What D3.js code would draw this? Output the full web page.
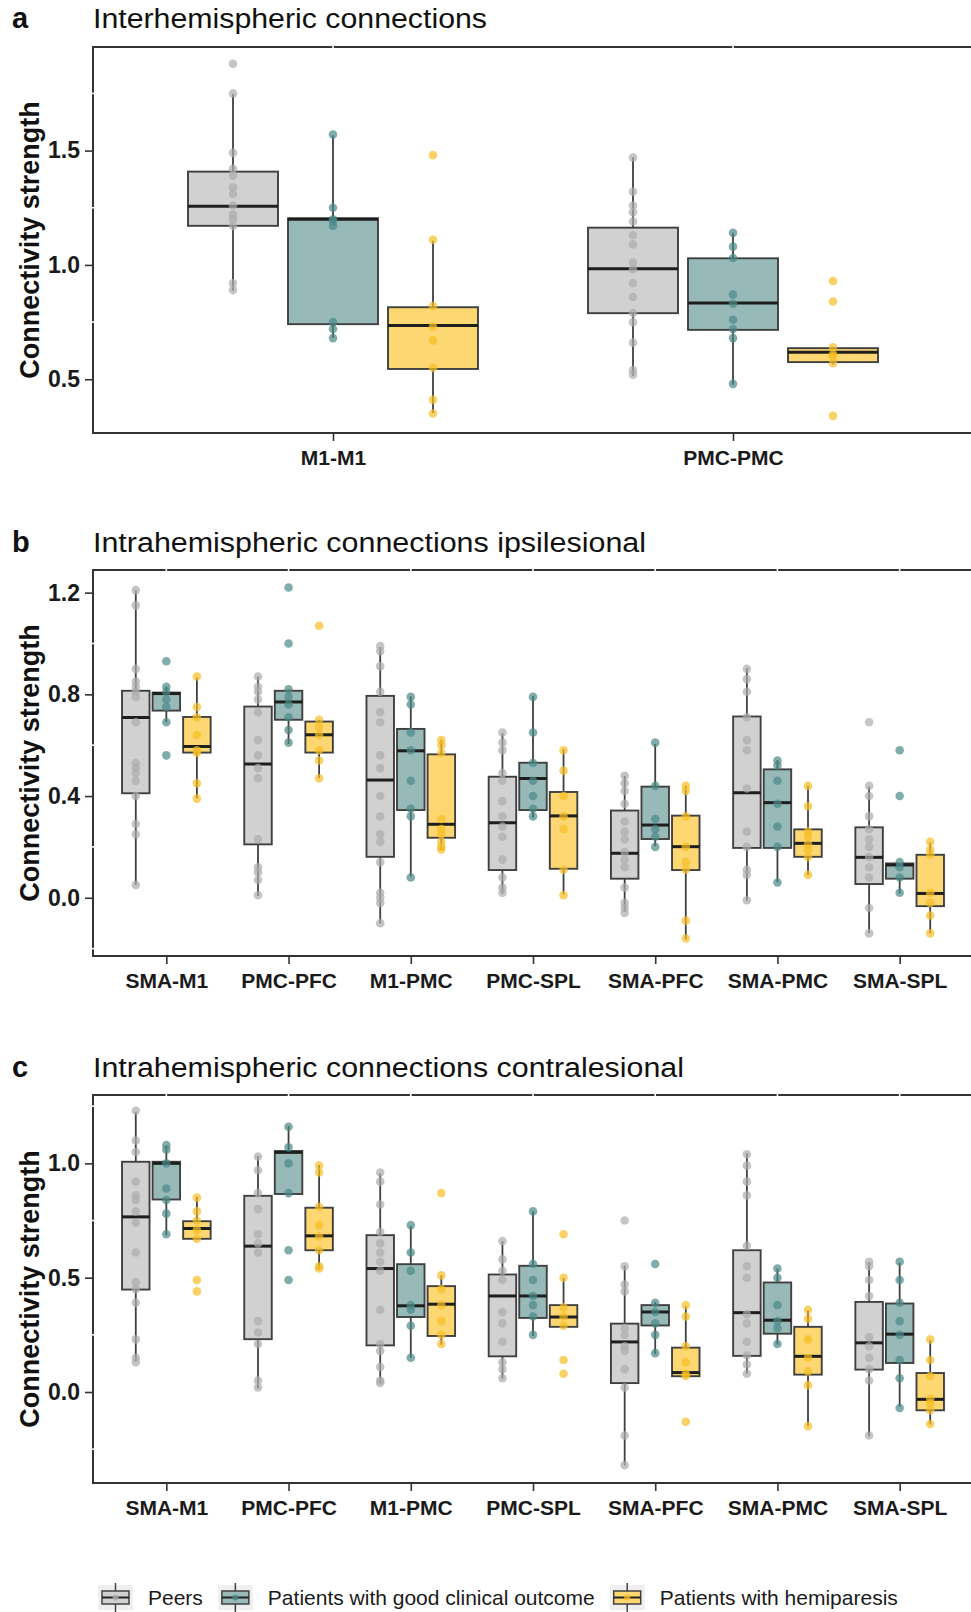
<!DOCTYPE html>
<html>
<head>
<meta charset="utf-8">
<script src="https://cdn.jsdelivr.net/npm/d3@7"></script>
<style>
  body { margin: 0; background: #fff; }
  svg { display: block; font-family: "Liberation Sans", Arial, sans-serif; }
</style>
</head>
<body>
<svg id="chart" width="971" height="1612"></svg>
<script>
// groups (legend order)
const groups = ["Peers", "Patients with good clinical outcome", "Patients with hemiparesis"]

// categories
const interCats = ["M1-M1", "PMC-PMC"]
const intraCats = ["SMA-M1", "PMC-PFC", "M1-PMC", "PMC-SPL", "SMA-PFC", "SMA-PMC", "SMA-SPL"]

// y ticks / limits
const ticksA = [0.5, 1.0, 1.5]
const ticksB = [0.0, 0.4, 0.8, 1.2]
const ticksC = [0.0, 0.5, 1.0]
const minorA = [0.75, 1.25, 1.75]
const minorB = [-0.2, 0.2, 0.6, 1.0]
const minorC = [-0.25, 0.25, 0.75, 1.25]
const limitsA = [0.265, 1.953]
const limitsB = [-0.229, 1.289]
const limitsC = [-0.398, 1.299]

// box stats: [lower whisker, q1, median, q3, upper whisker] per category
const interPeersBox = [[0.888, 1.171, 1.257, 1.408, 1.747], [0.515, 0.789, 0.983, 1.163, 1.471]]
const interGoodBox = [[0.680, 0.741, 1.200, 1.204, 1.566], [0.476, 0.716, 0.833, 1.029, 1.141]]
const interHemiBox = [[0.352, 0.545, 0.735, 0.815, 1.106], [0.566, 0.575, 0.618, 0.636, 0.636]]

const interPeersPts = [
  [1.88, 1.75, 1.49, 1.42, 1.39, 1.34, 1.31, 1.26, 1.22, 1.20, 1.17, 0.92, 0.89],
  [1.47, 1.32, 1.26, 1.23, 1.19, 1.13, 1.09, 1.01, 0.98, 0.92, 0.86, 0.79, 0.75, 0.66, 0.54, 0.52]
]
const interGoodPts = [
  [1.57, 1.25, 1.20, 1.19, 1.17, 0.75, 0.72, 0.68],
  [1.14, 1.08, 1.03, 0.87, 0.83, 0.76, 0.72, 0.68, 0.48]
]
const interHemiPts = [
  [1.48, 1.11, 0.82, 0.73, 0.67, 0.55, 0.41, 0.35],
  [0.93, 0.84, 0.64, 0.61, 0.60, 0.57, 0.34]
]

const ipsiPeersBox = [
  [0.050, 0.411, 0.709, 0.814, 1.209], [0.007, 0.210, 0.526, 0.752, 0.870],
  [-0.101, 0.161, 0.463, 0.794, 0.986], [0.017, 0.109, 0.295, 0.476, 0.647],
  [-0.055, 0.075, 0.175, 0.343, 0.480], [-0.012, 0.196, 0.413, 0.713, 0.903],
  [-0.140, 0.054, 0.159, 0.277, 0.437]
]
const ipsiGoodBox = [
  [0.690, 0.736, 0.803, 0.807, 0.831], [0.605, 0.700, 0.770, 0.814, 0.818],
  [0.083, 0.345, 0.578, 0.664, 0.792], [0.315, 0.345, 0.469, 0.531, 0.794],
  [0.204, 0.231, 0.286, 0.437, 0.605], [0.061, 0.196, 0.374, 0.505, 0.542],
  [0.017, 0.075, 0.129, 0.135, 0.135]
]
const ipsiHemiBox = [
  [0.391, 0.571, 0.595, 0.711, 0.866], [0.470, 0.571, 0.641, 0.693, 0.700],
  [0.188, 0.236, 0.289, 0.564, 0.621], [0.014, 0.114, 0.322, 0.416, 0.584],
  [-0.164, 0.109, 0.201, 0.323, 0.441], [0.089, 0.161, 0.214, 0.269, 0.440],
  [-0.140, -0.033, 0.017, 0.169, 0.217]
]

const ipsiPeersPts = [
  [1.21, 1.15, 0.90, 0.85, 0.83, 0.81, 0.79, 0.69, 0.53, 0.51, 0.49, 0.46, 0.40, 0.29, 0.25, 0.05],
  [0.87, 0.83, 0.81, 0.78, 0.73, 0.62, 0.56, 0.51, 0.47, 0.23, 0.12, 0.10, 0.07, 0.01],
  [0.99, 0.97, 0.91, 0.81, 0.73, 0.69, 0.56, 0.51, 0.40, 0.32, 0.25, 0.22, 0.14, 0.02, 0.00, -0.02, -0.10],
  [0.65, 0.61, 0.58, 0.49, 0.46, 0.38, 0.32, 0.28, 0.24, 0.15, 0.08, 0.04, 0.02],
  [0.48, 0.45, 0.42, 0.37, 0.30, 0.26, 0.23, 0.18, 0.15, 0.12, 0.04, -0.02, -0.04, -0.06],
  [0.90, 0.86, 0.81, 0.71, 0.62, 0.58, 0.43, 0.26, 0.20, 0.11, 0.09, -0.01],
  [0.69, 0.44, 0.40, 0.32, 0.27, 0.23, 0.20, 0.16, 0.12, 0.08, -0.04, -0.14]
]
const ipsiGoodPts = [
  [0.93, 0.83, 0.81, 0.78, 0.75, 0.69, 0.56],
  [1.22, 1.00, 0.82, 0.79, 0.76, 0.71, 0.66, 0.61],
  [0.79, 0.76, 0.65, 0.58, 0.46, 0.35, 0.32, 0.08],
  [0.79, 0.65, 0.53, 0.46, 0.40, 0.35, 0.32],
  [0.61, 0.44, 0.31, 0.27, 0.24, 0.20],
  [0.54, 0.52, 0.46, 0.37, 0.28, 0.20, 0.06],
  [0.58, 0.40, 0.14, 0.12, 0.08, 0.02]
]
const ipsiHemiPts = [
  [0.87, 0.75, 0.71, 0.64, 0.58, 0.57, 0.45, 0.39],
  [1.07, 0.70, 0.67, 0.64, 0.58, 0.54, 0.47],
  [0.62, 0.60, 0.57, 0.31, 0.27, 0.25, 0.22, 0.20, 0.19],
  [0.58, 0.50, 0.40, 0.32, 0.27, 0.11, 0.01],
  [0.44, 0.42, 0.32, 0.20, 0.14, 0.11, -0.09, -0.16],
  [0.44, 0.36, 0.26, 0.24, 0.21, 0.19, 0.16, 0.09],
  [0.22, 0.19, 0.17, 0.02, -0.02, -0.07, -0.14]
]

const contraPeersBox = [
  [0.131, 0.448, 0.766, 1.007, 1.226], [0.015, 0.231, 0.638, 0.858, 1.032],
  [0.036, 0.204, 0.540, 0.686, 0.956], [0.058, 0.156, 0.420, 0.514, 0.660],
  [-0.321, 0.039, 0.219, 0.299, 0.552], [0.080, 0.158, 0.347, 0.620, 1.044],
  [-0.194, 0.098, 0.215, 0.394, 0.569]
]
const contraGoodBox = [
  [0.686, 0.842, 1.000, 1.007, 1.076], [0.866, 0.866, 1.048, 1.054, 1.164],
  [0.149, 0.328, 0.377, 0.559, 0.726], [0.245, 0.324, 0.420, 0.552, 0.791],
  [0.165, 0.291, 0.350, 0.380, 0.394], [0.207, 0.255, 0.314, 0.479, 0.540],
  [-0.066, 0.127, 0.253, 0.387, 0.565]
]
const contraHemiBox = [
  [0.670, 0.670, 0.715, 0.747, 0.854], [0.536, 0.620, 0.683, 0.806, 0.993],
  [0.207, 0.245, 0.384, 0.463, 0.511], [0.285, 0.285, 0.328, 0.380, 0.499],
  [0.066, 0.069, 0.085, 0.194, 0.375], [-0.149, 0.076, 0.156, 0.285, 0.358],
  [-0.142, -0.080, -0.032, 0.083, 0.226]
]

const contraPeersPts = [
  [1.23, 1.10, 1.05, 0.92, 0.86, 0.84, 0.79, 0.74, 0.61, 0.48, 0.45, 0.39, 0.23, 0.15, 0.13],
  [1.03, 0.97, 0.87, 0.80, 0.69, 0.65, 0.61, 0.31, 0.26, 0.21, 0.05, 0.02],
  [0.96, 0.92, 0.82, 0.70, 0.65, 0.61, 0.57, 0.53, 0.36, 0.21, 0.18, 0.11, 0.05, 0.04],
  [0.66, 0.58, 0.53, 0.49, 0.35, 0.30, 0.22, 0.13, 0.10, 0.06],
  [0.75, 0.55, 0.47, 0.44, 0.28, 0.25, 0.20, 0.18, 0.10, 0.02, -0.19, -0.32],
  [1.04, 0.99, 0.92, 0.86, 0.64, 0.55, 0.50, 0.34, 0.30, 0.22, 0.16, 0.12, 0.08],
  [0.57, 0.55, 0.49, 0.42, 0.24, 0.20, 0.15, 0.10, 0.05, -0.19]
]
const contraGoodPts = [
  [1.08, 1.06, 1.00, 0.89, 0.84, 0.78, 0.69],
  [1.16, 1.07, 1.00, 0.87, 0.62, 0.49],
  [0.73, 0.61, 0.53, 0.38, 0.36, 0.29, 0.15],
  [0.79, 0.56, 0.49, 0.42, 0.38, 0.33, 0.25],
  [0.56, 0.39, 0.35, 0.30, 0.25, 0.17],
  [0.54, 0.50, 0.38, 0.31, 0.28, 0.21],
  [0.57, 0.49, 0.39, 0.31, 0.25, 0.14, 0.06, -0.07]
]
const contraHemiPts = [
  [0.85, 0.79, 0.75, 0.71, 0.67, 0.49, 0.44],
  [0.99, 0.96, 0.81, 0.73, 0.68, 0.62, 0.55, 0.54],
  [0.87, 0.51, 0.45, 0.38, 0.31, 0.25, 0.21],
  [0.69, 0.50, 0.37, 0.33, 0.29, 0.14, 0.08],
  [0.38, 0.33, 0.20, 0.13, 0.08, 0.07, -0.13],
  [0.36, 0.32, 0.23, 0.15, 0.09, 0.03, -0.15],
  [0.23, 0.14, 0.07, -0.03, -0.05, -0.08, -0.14]
]

const boxFills = ["#d1d1d1", "#97bab9", "#fdd772"]
const pointFills = ["#acacac", "#4a8987", "#f6bd22"]
const lineCol = "#404040"

const svg = d3.select("#chart")
svg.append("rect").attr("width", 971).attr("height", 1612).attr("fill", "#fff")

const plotLeft = 93
const plotRight = 973

function drawPanel(p) {
  const x = d3.scalePoint().domain(p.cats).range([plotLeft, plotRight]).padding(0.6)
  const step = x.step()
  const y = d3.scaleLinear().domain(p.limits).range([p.bottom, p.top])
  const g = svg.append("g")

  g.append("text")
    .attr("x", 12).attr("y", p.titleY)
    .attr("font-size", 29).attr("font-weight", "bold").attr("fill", "#111")
    .text(p.letter)
  g.append("text")
    .attr("x", plotLeft).attr("y", p.titleY)
    .attr("font-size", 27).attr("fill", "#111")
    .attr("textLength", p.titleWidth).attr("lengthAdjust", "spacingAndGlyphs")
    .text(p.title)

  g.append("text")
    .attr("transform", `translate(39,${(p.top + p.bottom) / 2}) rotate(-90)`)
    .attr("text-anchor", "middle")
    .attr("font-size", 27).attr("font-weight", "bold").attr("fill", "#111")
    .text("Connectivity strength")

  groups.forEach((name, gi) => {
    const off = (gi - 1) * 0.25 * step
    const bw = 0.225 * step
    const data = p.boxes[gi].map((b, ci) => ({ cx: x(p.cats[ci]) + off, b }))
    const layer = g.append("g")

    layer.selectAll("path.whisker").data(data).join("path")
      .attr("class", "whisker")
      .attr("d", d => `M${d.cx},${y(d.b[4])}V${y(d.b[3])}M${d.cx},${y(d.b[1])}V${y(d.b[0])}`)
      .attr("stroke", lineCol).attr("stroke-width", 1.8).attr("fill", "none")

    layer.selectAll("rect.box").data(data).join("rect")
      .attr("class", "box")
      .attr("x", d => d.cx - bw / 2).attr("width", bw)
      .attr("y", d => y(d.b[3])).attr("height", d => Math.max(0.5, y(d.b[1]) - y(d.b[3])))
      .attr("fill", boxFills[gi]).attr("stroke", lineCol).attr("stroke-width", 1.9)

    layer.selectAll("line.median").data(data).join("line")
      .attr("class", "median")
      .attr("x1", d => d.cx - bw / 2).attr("x2", d => d.cx + bw / 2)
      .attr("y1", d => y(d.b[2])).attr("y2", d => y(d.b[2]))
      .attr("stroke", "#1e1e1e").attr("stroke-width", 3)

    const pts = p.points[gi].flatMap((vals, ci) => vals.map(v => ({ cx: x(p.cats[ci]) + off, v })))
    layer.selectAll("circle").data(pts).join("circle")
      .attr("cx", d => d.cx).attr("cy", d => y(d.v)).attr("r", 4.3)
      .attr("fill", pointFills[gi]).attr("fill-opacity", 0.7)
  })

  // frame
  g.append("rect")
    .attr("x", plotLeft).attr("y", p.top)
    .attr("width", plotRight - plotLeft).attr("height", p.bottom - p.top)
    .attr("fill", "none").attr("stroke", "#333").attr("stroke-width", 2)

  // thin white grid breaks over the border
  g.selectAll("rect.gapx").data(p.cats).join("rect")
    .attr("class", "gapx")
    .attr("x", d => x(d) - 0.8).attr("y", p.top - 2).attr("width", 1.6).attr("height", 4)
    .attr("fill", "#fff")
  g.selectAll("rect.gapy").data(p.minor).join("rect")
    .attr("class", "gapy")
    .attr("x", plotLeft - 2).attr("y", d => y(d) - 0.8).attr("width", 4).attr("height", 1.6)
    .attr("fill", "#fff")

  const yAxis = g.append("g")
    .attr("transform", `translate(${plotLeft - 1},0)`)
    .call(d3.axisLeft(y).tickValues(p.ticks).tickFormat(d3.format(".1f")).tickSize(7).tickPadding(5))
  yAxis.select(".domain").remove()
  yAxis.attr("font-family", null).attr("font-size", null)
  yAxis.selectAll("line").attr("stroke", "#333").attr("stroke-width", 1.6)
  yAxis.selectAll("text")
    .attr("font-size", 23).attr("font-weight", "bold").attr("fill", "#1a1a1a")

  const xAxis = g.append("g")
    .attr("transform", `translate(0,${p.bottom + 1})`)
    .call(d3.axisBottom(x).tickSize(7).tickPadding(9))
  xAxis.select(".domain").remove()
  xAxis.attr("font-family", null).attr("font-size", null)
  xAxis.selectAll("line").attr("stroke", "#333").attr("stroke-width", 1.6)
  xAxis.selectAll("text")
    .attr("font-size", 21).attr("font-weight", "bold").attr("fill", "#1a1a1a")
}

drawPanel({
  letter: "a", title: "Interhemispheric connections", titleY: 28, titleWidth: 394,
  top: 47, bottom: 433, cats: interCats, limits: limitsA, ticks: ticksA, minor: minorA,
  boxes: [interPeersBox, interGoodBox, interHemiBox],
  points: [interPeersPts, interGoodPts, interHemiPts]
})
drawPanel({
  letter: "b", title: "Intrahemispheric connections ipsilesional", titleY: 552, titleWidth: 553,
  top: 570, bottom: 956, cats: intraCats, limits: limitsB, ticks: ticksB, minor: minorB,
  boxes: [ipsiPeersBox, ipsiGoodBox, ipsiHemiBox],
  points: [ipsiPeersPts, ipsiGoodPts, ipsiHemiPts]
})
drawPanel({
  letter: "c", title: "Intrahemispheric connections contralesional", titleY: 1077, titleWidth: 591,
  top: 1095, bottom: 1483, cats: intraCats, limits: limitsC, ticks: ticksC, minor: minorC,
  boxes: [contraPeersBox, contraGoodBox, contraHemiBox],
  points: [contraPeersPts, contraGoodPts, contraHemiPts]
})

// legend
const legend = svg.append("g").attr("transform", "translate(98,1585)")
let lx = 0
groups.forEach((name, gi) => {
  const item = legend.append("g").attr("transform", `translate(${lx},0)`)
  item.append("rect").attr("width", 35).attr("height", 25).attr("fill", "#efefef")
  item.append("line").attr("x1", 17.5).attr("x2", 17.5).attr("y1", -2).attr("y2", 27)
    .attr("stroke", lineCol).attr("stroke-width", 1.5)
  item.append("rect").attr("x", 4).attr("y", 6).attr("width", 27).attr("height", 13)
    .attr("fill", boxFills[gi]).attr("stroke", lineCol).attr("stroke-width", 1.5)
  item.append("line").attr("x1", 4).attr("x2", 31).attr("y1", 12.5).attr("y2", 12.5)
    .attr("stroke", "#222").attr("stroke-width", 2)
  item.append("circle").attr("cx", 17.5).attr("cy", 12.5).attr("r", 3)
    .attr("fill", pointFills[gi]).attr("fill-opacity", 0.8)
  const t = item.append("text").attr("x", 50).attr("y", 20)
    .attr("font-size", 21).attr("fill", "#1a1a1a").text(name)
  lx += 50 + t.node().getComputedTextLength() + 15
})
</script>
</body>
</html>
